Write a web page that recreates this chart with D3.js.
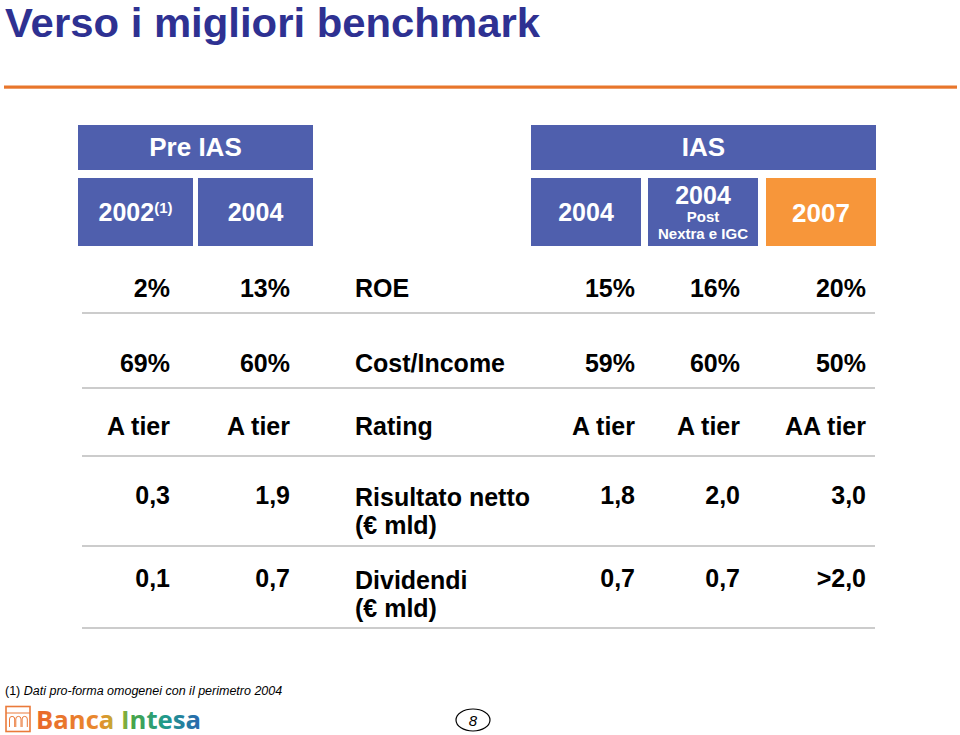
<!DOCTYPE html>
<html>
<head>
<meta charset="utf-8">
<script src="https://cdn.jsdelivr.net/npm/d3@7"></script>
<style>
  html, body { margin: 0; padding: 0; background: #fff; }
  svg { display: block; font-family: "Liberation Sans", Arial, Helvetica, sans-serif; }
</style>
</head>
<body>
<script>
// ---------- data ----------
const title = "Verso i migliori benchmark";
const groupHeaders = ["Pre IAS", "IAS"];
const columnKeys = ["pre2002", "pre2004", "label", "ias2004", "iasPost", "ias2007"];
const rowLabels = [["ROE"], ["Cost/Income"], ["Rating"], ["Risultato netto", "(€ mld)"], ["Dividendi", "(€ mld)"]];
const pre2002 = ["2%", "69%", "A tier", "0,3", "0,1"];
const pre2004 = ["13%", "60%", "A tier", "1,9", "0,7"];
const ias2004 = ["15%", "59%", "A tier", "1,8", "0,7"];
const iasPost = ["16%", "60%", "A tier", "2,0", "0,7"];
const ias2007 = ["20%", "50%", "AA tier", "3,0", ">2,0"];
const footnote = ["(1) ", "Dati pro-forma omogenei con il perimetro 2004"];
const pageNumber = "8";

// ---------- layout ----------
const W = 960, H = 735;
const blue = "#4f5fad", orange = "#f7963a", titleBlue = "#2e3192";
const svg = d3.select("body").append("svg").attr("width", W).attr("height", H);

// gradient for logo
const defs = svg.append("defs");
const grad = defs.append("linearGradient").attr("id", "logoGrad").attr("x1", "0").attr("x2", "1").attr("y1", "0").attr("y2", "0");
[[0, "#e9672c"], [0.38, "#e98a2e"], [0.5, "#b6b435"], [0.58, "#4aa547"], [0.78, "#1f9a8a"], [1, "#2a66b0"]]
  .forEach(([o, c]) => grad.append("stop").attr("offset", o).attr("stop-color", c));

// title
svg.append("text").attr("x", 5).attr("y", 37)
  .attr("font-size", 40).attr("font-weight", "bold").attr("fill", titleBlue)
  .attr("textLength", 535).attr("lengthAdjust", "spacingAndGlyphs")
  .text(title);
svg.append("rect").attr("x", 4).attr("y", 85.5).attr("width", 953).attr("height", 3.2).attr("fill", "#e8762c");

// header boxes
const groupBox = d3.scaleOrdinal().domain(groupHeaders).range([[78, 313], [531, 876]]);
svg.selectAll("rect.group").data(groupHeaders).join("rect").attr("class", "group")
  .attr("x", d => groupBox(d)[0]).attr("y", 125)
  .attr("width", d => groupBox(d)[1] - groupBox(d)[0]).attr("height", 45)
  .attr("fill", blue);
svg.selectAll("text.group").data(groupHeaders).join("text").attr("class", "group")
  .attr("x", d => (groupBox(d)[0] + groupBox(d)[1]) / 2).attr("y", 156)
  .attr("text-anchor", "middle").attr("font-size", 26).attr("font-weight", "bold").attr("fill", "#fff")
  .text(d => d);

const headCols = [
  { key: "pre2002", x0: 78, x1: 193, fill: blue },
  { key: "pre2004", x0: 198, x1: 313, fill: blue },
  { key: "ias2004", x0: 531, x1: 641, fill: blue },
  { key: "iasPost", x0: 648, x1: 758, fill: blue },
  { key: "ias2007", x0: 766, x1: 876, fill: orange }
];
svg.selectAll("rect.head").data(headCols).join("rect").attr("class", "head")
  .attr("x", d => d.x0).attr("y", 178).attr("width", d => d.x1 - d.x0).attr("height", 68)
  .attr("fill", d => d.fill);

const hx = d => (d.x0 + d.x1) / 2;
const hc = k => headCols.find(d => d.key === k);
// 2002(1)
const t2002 = svg.append("text").attr("x", hx(hc("pre2002"))).attr("y", 221)
  .attr("text-anchor", "middle").attr("font-size", 25).attr("font-weight", "bold").attr("fill", "#fff");
t2002.append("tspan").text("2002");
t2002.append("tspan").attr("font-size", 15).attr("dy", -8).text("(1)");
svg.append("text").attr("x", hx(hc("pre2004"))).attr("y", 221).attr("text-anchor", "middle")
  .attr("font-size", 25).attr("font-weight", "bold").attr("fill", "#fff").text("2004");
svg.append("text").attr("x", hx(hc("ias2004"))).attr("y", 221).attr("text-anchor", "middle")
  .attr("font-size", 25).attr("font-weight", "bold").attr("fill", "#fff").text("2004");
const pc = hx(hc("iasPost"));
svg.append("text").attr("x", pc).attr("y", 204).attr("text-anchor", "middle")
  .attr("font-size", 25).attr("font-weight", "bold").attr("fill", "#fff").text("2004");
svg.append("text").attr("x", pc).attr("y", 222).attr("text-anchor", "middle")
  .attr("font-size", 15).attr("font-weight", "bold").attr("fill", "#fff").text("Post");
svg.append("text").attr("x", pc).attr("y", 239).attr("text-anchor", "middle")
  .attr("font-size", 15).attr("font-weight", "bold").attr("fill", "#fff").text("Nextra e IGC");
svg.append("text").attr("x", hx(hc("ias2007"))).attr("y", 222).attr("text-anchor", "middle")
  .attr("font-size", 26).attr("font-weight", "bold").attr("fill", "#fff").text("2007");

// rows
const rowIdx = d3.range(rowLabels.length);
const rowBase = d3.scaleOrdinal().domain(rowIdx).range([297, 372, 435, 504, 587]);
const rowLine = d3.scaleOrdinal().domain(rowIdx).range([313, 388, 456, 546, 628]);
const colX = d3.scaleOrdinal().domain(columnKeys).range([170, 290, 355, 635, 740, 866]);
const seriesByKey = { pre2002, pre2004, ias2004, iasPost, ias2007 };

svg.selectAll("line.sep").data(rowIdx).join("line").attr("class", "sep")
  .attr("x1", 82).attr("x2", 875).attr("y1", d => rowLine(d)).attr("y2", d => rowLine(d))
  .attr("stroke", "#cccccc").attr("stroke-width", 2);

Object.entries(seriesByKey).forEach(([key, vals]) => {
  svg.selectAll("text.v-" + key).data(vals).join("text").attr("class", "v-" + key)
    .attr("x", colX(key)).attr("y", (d, i) => rowBase(i))
    .attr("text-anchor", "end").attr("font-size", 25).attr("font-weight", "bold").attr("fill", "#000")
    .text(d => d);
});
rowLabels.forEach((lines, i) => {
  lines.forEach((ln, j) => {
    svg.append("text").attr("x", colX("label")).attr("y", rowBase(i) + (i >= 3 ? 2 : 0) + j * 28)
      .attr("font-size", 25).attr("font-weight", "bold").attr("fill", "#000").text(ln);
  });
});

// footnote
const fn = svg.append("text").attr("x", 5).attr("y", 695).attr("font-size", 12.5).attr("fill", "#000");
fn.append("tspan").text(footnote[0]);
fn.append("tspan").attr("font-style", "italic").text(footnote[1]);

// logo
const logo = svg.append("g");
logo.append("rect").attr("x", 6).attr("y", 706.5).attr("width", 24).attr("height", 25)
  .attr("fill", "none").attr("stroke", "#ea7a3a").attr("stroke-width", 1.6);
logo.append("line").attr("x1", 6).attr("x2", 30).attr("y1", 713).attr("y2", 713).attr("stroke", "#ea7a3a").attr("stroke-width", 1);
[0, 1, 2].forEach(k => {
  const x0 = 9.5 + k * 6.3;
  logo.append("path")
    .attr("d", `M${x0},727 L${x0},719 A2.6,2.6 0 0 1 ${x0 + 5.2},719 L${x0 + 5.2},727`)
    .attr("fill", "none").attr("stroke", "#ea7a3a").attr("stroke-width", 1);
});
logo.append("text").attr("x", 36).attr("y", 729)
  .attr("font-family", "'Open Sans', 'Noto Sans', sans-serif").attr("font-weight", "bold").attr("font-size", 25)
  .attr("textLength", 165).attr("lengthAdjust", "spacingAndGlyphs")
  .attr("fill", "url(#logoGrad)").text("Banca Intesa");

// page number
svg.append("ellipse").attr("cx", 473).attr("cy", 720).attr("rx", 17).attr("ry", 11)
  .attr("fill", "none").attr("stroke", "#000").attr("stroke-width", 1.2);
svg.append("text").attr("x", 473).attr("y", 725.5).attr("text-anchor", "middle")
  .attr("font-size", 15).attr("font-style", "italic").text(pageNumber);
</script>
</body>
</html>
